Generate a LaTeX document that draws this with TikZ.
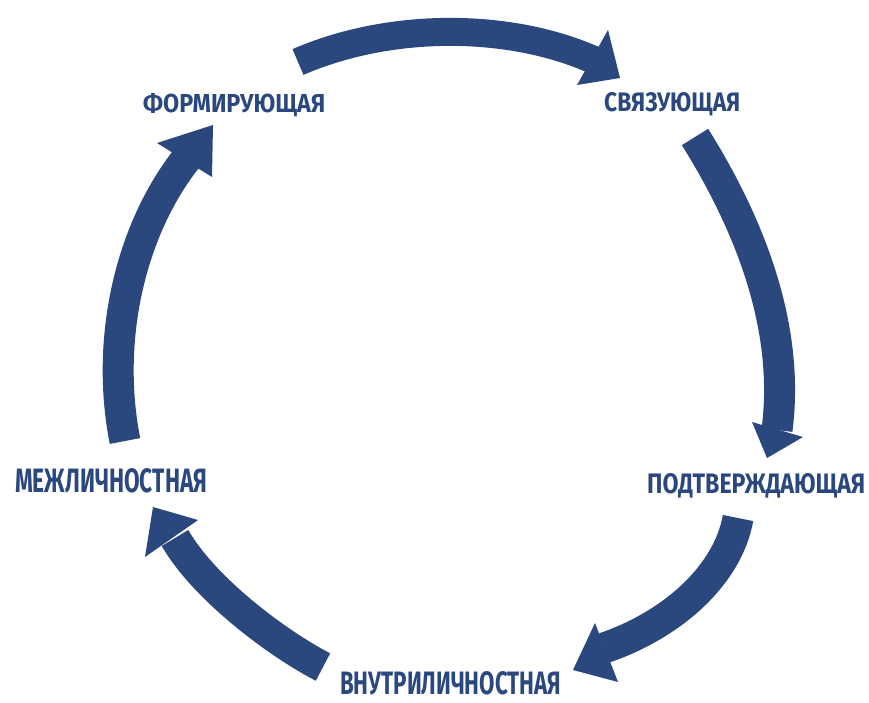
\documentclass[tikz,border=0pt]{standalone}
\usepackage{fontspec}
\setmainfont{Fira Sans}
\definecolor{cycblue}{RGB}{43,72,126}
\tikzset{
  body/.style={draw=cycblue, line width=31pt, line cap=butt},
  head/.style={fill=cycblue, draw=none},
  lbl/.style={inner sep=0pt, anchor=base west, text=cycblue, font=\bfseries}
}
\begin{document}
\begin{tikzpicture}[x=1pt,y=-1pt]
\useasboundingbox (0,0) rectangle (869,702);
% labels
\node[lbl] (form) at (143,112) {\resizebox{182pt}{19pt}{ФОРМИРУЮЩАЯ}};
\node[lbl] (svyaz) at (604,111) {\resizebox{136pt}{19pt}{СВЯЗУЮЩАЯ}};
\node[lbl] (podtv) at (647,493) {\resizebox{218pt}{20pt}{ПОДТВЕРЖДАЮЩАЯ}};
\node[lbl] (vnutr) at (340,694) {\resizebox{221pt}{23pt}{ВНУТРИЛИЧНОСТНАЯ}};
\node[lbl] (mezh) at (15,492) {\resizebox{192pt}{24pt}{МЕЖЛИЧНОСТНАЯ}};
% arrow end points
\coordinate (t1) at (298,62);  \coordinate (e1) at (596,61);
\coordinate (t2) at (695,137); \coordinate (e2) at (777,430);
\coordinate (t3) at (738,518); \coordinate (e3) at (604,648);
\coordinate (t4) at (323,667); \coordinate (e4) at (175,538);
\coordinate (t5) at (125,441); \coordinate (e5) at (187,158);
% top arrow
\draw[body, line width=28pt] (t1) .. controls (390,22) and (510,22) .. (e1);
\fill[head] (608,30) -- (620,78) -- (577,85) -- cycle;
% right arrow
\draw[body] (t2) .. controls (752,228) and (790,330) .. (e2);
\fill[head] (752,422) -- (803,437) -- (767,458) -- cycle;
% bottom-right arrow
\draw[body] (t3) .. controls (728,575) and (672,625) .. (e3);
\fill[head] (595,623) -- (618,682) -- (573,670) -- cycle;
% bottom-left arrow
\draw[body] (t4) .. controls (280,645) and (205,590) .. (e4);
\fill[head] (153,507) -- (198,520) -- (145,557) -- cycle;
% left arrow
\draw[body] (t5) .. controls (105,340) and (130,230) .. (e5);
\fill[head] (213,125) -- (212,177) -- (157,143) -- cycle;
\end{tikzpicture}
\end{document}
